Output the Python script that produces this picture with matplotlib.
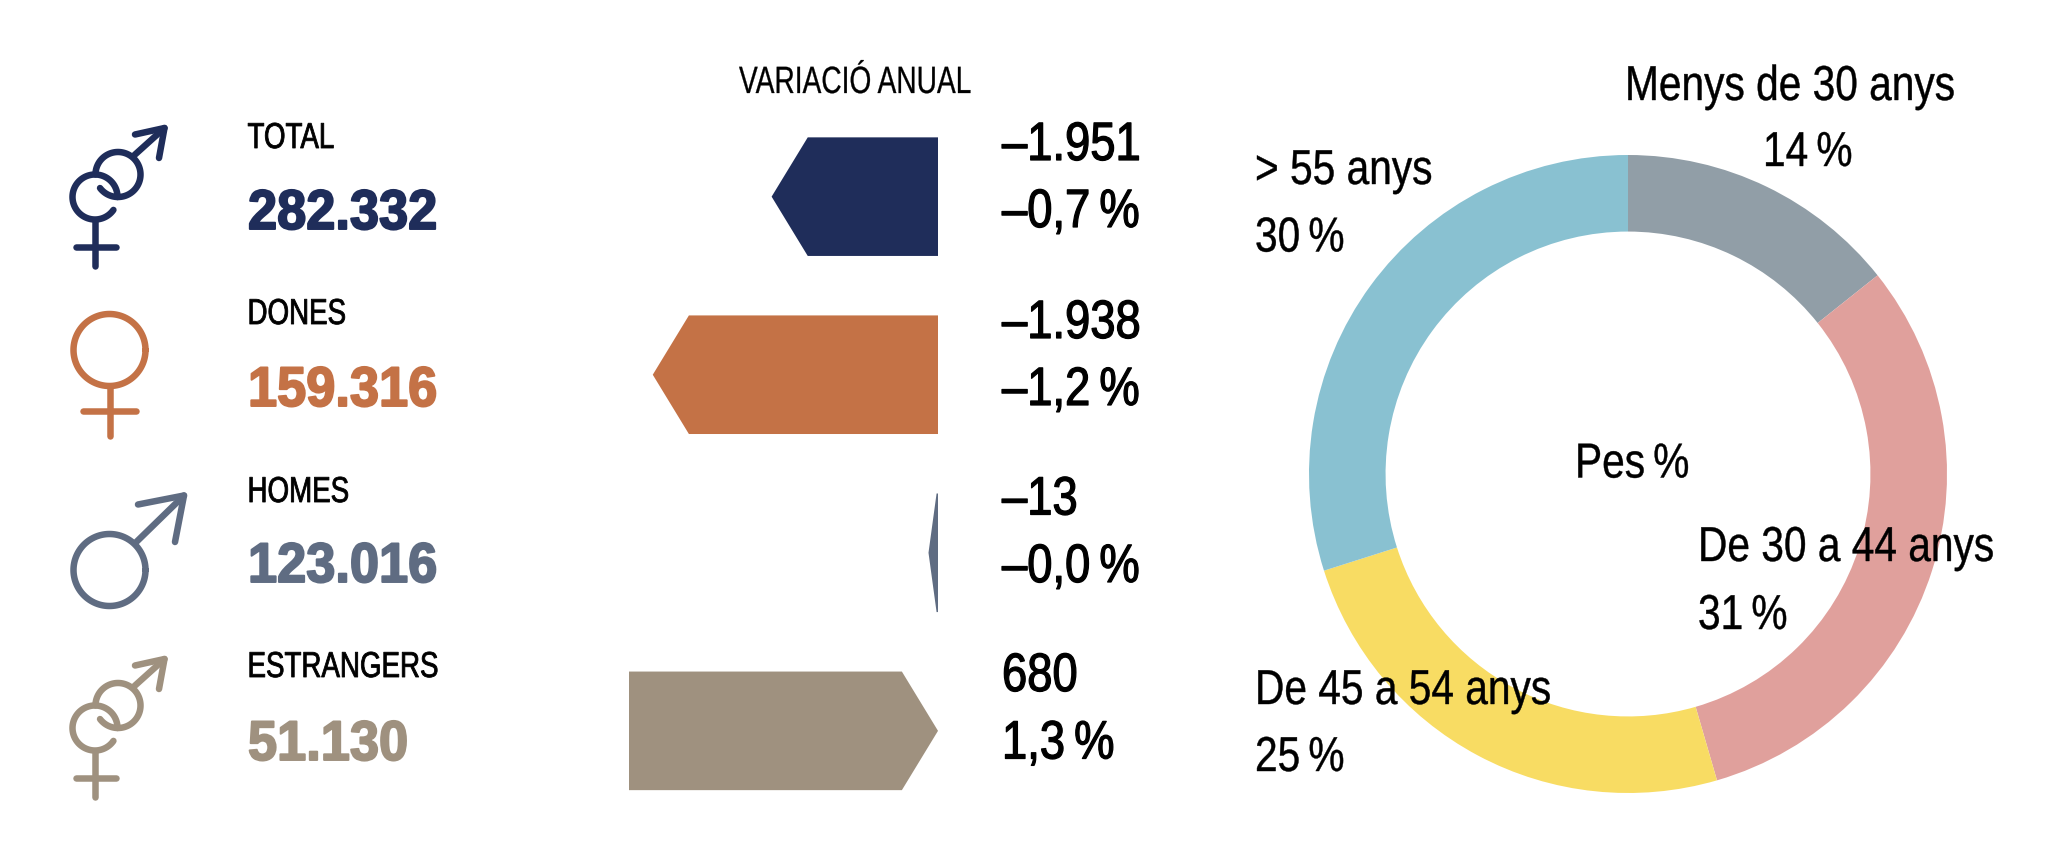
import numpy as np
import matplotlib
matplotlib.use("Agg")
import matplotlib.pyplot as plt
import matplotlib.patheffects as pe
from matplotlib.transforms import Affine2D

W, H = 2067, 850

# data
categories = ["TOTAL", "DONES", "HOMES", "ESTRANGERS"]
totals = ["282.332", "159.316", "123.016", "51.130"]
change_abs = ["\u20131.951", "\u20131.938", "\u201313", "680"]
change_pct = ["\u20130,7\u2009%", "\u20131,2\u2009%", "\u20130,0\u2009%", "1,3\u2009%"]
bar_values = [-0.7, -1.2, -0.04, 1.3]
colors = ["#1f2d5a", "#c47246", "#5f6c82", "#9f917f"]

age_labels = ["Menys de 30 anys", "De 30 a 44 anys", "De 45 a 54 anys", "> 55 anys"]
age_share = [14.3, 31.2, 24.6, 29.9]
age_text = ["14\u2009%", "31\u2009%", "25\u2009%", "30\u2009%"]
age_colors = ["#919ea7", "#e0a09c", "#f8dc63", "#89c1d1"]

plt.rcParams["font.family"] = ["Liberation Sans", "DejaVu Sans"]


class Squeeze(pe.AbstractPathEffect):
    # the original font is condensed, none installed is, so narrow the glyphs
    def __init__(self, sx, lw=0.0):
        super().__init__()
        self.sx = sx
        self.lw = lw

    def draw_path(self, renderer, gc, tpath, affine, rgbFace=None):
        gc0 = renderer.new_gc()
        gc0.copy_properties(gc)
        if self.lw:
            gc0.set_linewidth(self.lw)
            gc0.set_foreground(rgbFace)
        renderer.draw_path(gc0, tpath, Affine2D().scale(self.sx, 1) + affine, rgbFace)
        gc0.restore()


def px_axes(fig, left, top, right, bottom):
    return fig.add_axes([left / W, 1 - bottom / H, (right - left) / W, (bottom - top) / H])


def pt(px):
    return px * 72 / 100


fig = plt.figure(figsize=(W / 100, H / 100), dpi=100, facecolor="white")

# arrow bars, x axis in percent
ax_bar = px_axes(fig, 629, 137, 938, 790.5)
ax_bar.set_xlim(-1.3, 0)
ax_bar.set_ylim(3.335, -0.335)
ax_bar.axis("off")
bar_h = 0.333
for i, v in enumerate(bar_values):
    size = abs(v)
    tip = min(0.152, 0.85 * size)
    if v < 0:
        xs = [0, -size + tip, -size, -size + tip, 0]
    else:
        xs = [-size, -tip, 0, -tip, -size]
    ys = [i - bar_h, i - bar_h, i, i + bar_h, i + bar_h]
    ax_bar.fill(xs, ys, color=colors[i], lw=0)

# ring
ax_pie = px_axes(fig, 1628 - 319, 474 - 319, 1628 + 319, 474 + 319)
ax_pie.pie(age_share, colors=age_colors, startangle=90, counterclock=False,
           radius=1, wedgeprops={"width": 0.24, "linewidth": 0})
ax_pie.set_xlim(-1, 1)
ax_pie.set_ylim(-1, 1)

# overlay in pixels for text and icons
ov = px_axes(fig, 0, 0, W, H)
ov.set_xlim(0, W)
ov.set_ylim(H, 0)
ov.axis("off")
ov.patch.set_alpha(0)

ICON_LW = pt(6.5)


def stroke(pts, color):
    xs, ys = zip(*pts)
    ov.plot(xs, ys, color=color, lw=ICON_LW, solid_capstyle="round", solid_joinstyle="round")


def arc(cx, cy, r, a0, a1, color):
    t = np.radians(np.linspace(a0, a1, 120))
    ov.plot(cx + r * np.cos(t), cy - r * np.sin(t), color=color, lw=ICON_LW,
            solid_capstyle="round")


def both_icon(dy, color):
    arc(95, 197 + dy, 22.5, 0, 325, color)
    arc(118, 174.5 + dy, 22.5, 217, 540, color)
    stroke([(134.5, 155 + dy), (164.5, 128 + dy)], color)
    stroke([(135, 134.5 + dy), (164.5, 128 + dy), (159, 158 + dy)], color)
    stroke([(95.4, 220 + dy), (95.4, 266 + dy)], color)
    stroke([(76, 246.7 + dy), (115.8, 246.7 + dy)], color)


both_icon(0, colors[0])
both_icon(531, colors[3])

# dones
arc(109.5, 350, 36, 0, 360, colors[1])
stroke([(109.5, 386), (109.5, 436)], colors[1])
stroke([(83, 411), (136, 411)], colors[1])

# homes
arc(109.5, 570, 36, 0, 360, colors[2])
stroke([(136.6, 541.7), (184, 495.5)], colors[2])
stroke([(138, 504.5), (184, 495.5), (175, 542)], colors[2])

label_base = [148, 324, 502, 677]
total_base = [229, 406, 582, 760]
abs_base = [160, 338, 514.5, 691]
pct_base = [227, 405, 582, 758.5]

for i, name in enumerate(categories):
    ov.text(247.5, label_base[i], name, fontsize=pt(36), va="baseline", color="black",
            path_effects=[Squeeze(0.77, 0.6)])
    ov.text(248, total_base[i], totals[i], fontsize=pt(56), va="baseline", color=colors[i],
            fontweight="bold", path_effects=[Squeeze(0.935, 1.4)])
    ov.text(1002, abs_base[i], change_abs[i], fontsize=pt(54), va="baseline", color="black",
            path_effects=[Squeeze(0.84, 0.9)])
    ov.text(1002, pct_base[i], change_pct[i], fontsize=pt(54), va="baseline", color="black",
            path_effects=[Squeeze(0.84, 0.9)])

ov.text(739, 93, "VARIACI\u00d3 ANUAL", fontsize=pt(38), va="baseline", color="black",
        path_effects=[Squeeze(0.74, 0.2)])

# ring labels
label_pos = [(1625, 100), (1698, 561), (1255, 704), (1255, 184)]
pct_pos = [(1763, 166), (1698, 629), (1255, 771), (1255, 251.5)]
for i, name in enumerate(age_labels):
    ov.text(label_pos[i][0], label_pos[i][1], name, fontsize=pt(49), va="baseline", color="black",
            path_effects=[Squeeze(0.83, 0.3)])
    ov.text(pct_pos[i][0], pct_pos[i][1], age_text[i], fontsize=pt(49), va="baseline", color="black",
            path_effects=[Squeeze(0.83, 0.3)])
ov.text(1575, 477.5, "Pes\u2009%", fontsize=pt(49), va="baseline", color="black",
        path_effects=[Squeeze(0.83, 0.3)])

fig.savefig("out.png", dpi=100, facecolor="white")
